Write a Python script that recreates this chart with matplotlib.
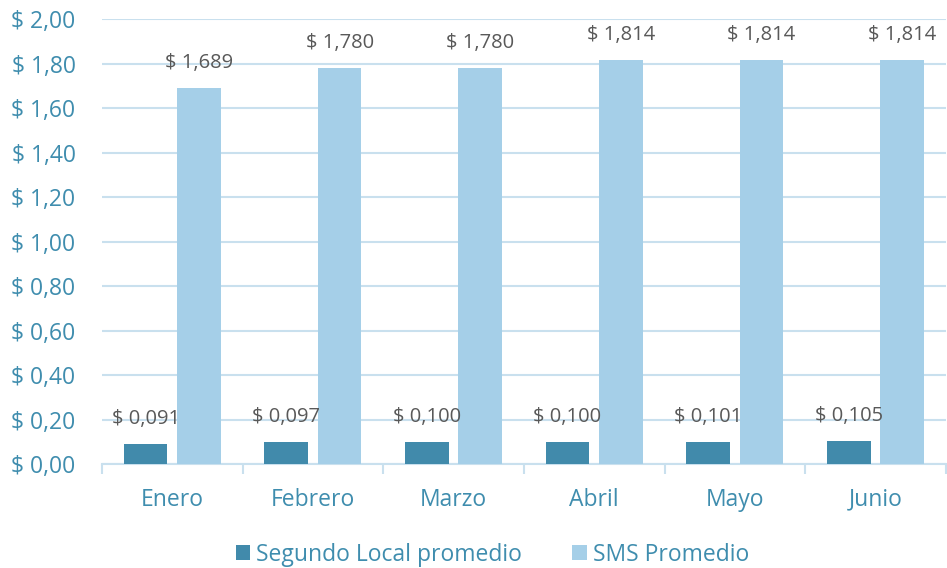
import matplotlib
matplotlib.use("Agg")
import matplotlib.pyplot as plt
from matplotlib.ticker import FuncFormatter, FixedLocator
import numpy as np

plt.rcParams['font.family'] = ['Open Sans', 'DejaVu Sans']

months = ["Enero", "Febrero", "Marzo", "Abril", "Mayo", "Junio"]
segundo_local = [0.091, 0.097, 0.100, 0.100, 0.101, 0.105]
sms = [1.689, 1.780, 1.780, 1.814, 1.814, 1.814]
series_names = ["Segundo Local promedio", "SMS Promedio"]

dark = "#418AAB"
light = "#A5CFE8"
axis_text = "#3F8DAE"
grid_c = "#C9E0EE"
label_c = "#595959"

fig = plt.figure(figsize=(9.47, 5.68), dpi=100)
ax = fig.add_axes([0.1077, 0.183, 0.891, 0.7835])

x = np.arange(len(months))
w = 0.31
gap = 0.07
b1 = ax.bar(x - (w + gap) / 2, segundo_local, w, color=dark, label=series_names[0], zorder=3)
b2 = ax.bar(x + (w + gap) / 2, sms, w, color=light, label=series_names[1], zorder=3)

def fmt(v):
    return "$ " + f"{v:.3f}".replace(".", ",")

for bars, vals in ((b1, segundo_local), (b2, sms)):
    for r, v in zip(bars, vals):
        ax.annotate(fmt(v), (r.get_x() + r.get_width() / 2, v), xytext=(0, 18),
                    textcoords="offset points", ha="center", va="center",
                    fontsize=14.5, color=label_c, zorder=4)

ax.set_xlim(-0.5, len(months) - 0.5)
ax.set_ylim(0, 2.0)
ax.yaxis.set_major_locator(FixedLocator(np.arange(0, 2.01, 0.2)))
ax.yaxis.set_major_formatter(FuncFormatter(lambda v, p: "$ " + f"{v:.2f}".replace(".", ",")))
ax.grid(axis="y", color=grid_c, linewidth=1.5, zorder=0)
for s in ["top", "right", "left"]:
    ax.spines[s].set_visible(False)
ax.spines["bottom"].set_color(grid_c)
ax.spines["bottom"].set_linewidth(1.5)
ax.tick_params(axis="y", length=0, labelsize=16.5, labelcolor=axis_text, pad=19)
ax.set_xticks(x)
ax.set_xticklabels(months)
ax.tick_params(axis="x", length=0, labelsize=16.5, labelcolor=axis_text, pad=17)
ax.set_xticks(np.arange(-0.5, len(months), 1.0), minor=True)
ax.tick_params(axis="x", which="minor", length=7, color=grid_c, width=1.5)

leg = fig.legend(loc="lower center", bbox_to_anchor=(0.52, -0.034), ncol=2, frameon=False,
                 fontsize=16.5, handlelength=0.65, handleheight=0.65, handletextpad=0.25,
                 columnspacing=2.2)
for t in leg.get_texts():
    t.set_color(axis_text)

fig.savefig("out.png", dpi=100)
